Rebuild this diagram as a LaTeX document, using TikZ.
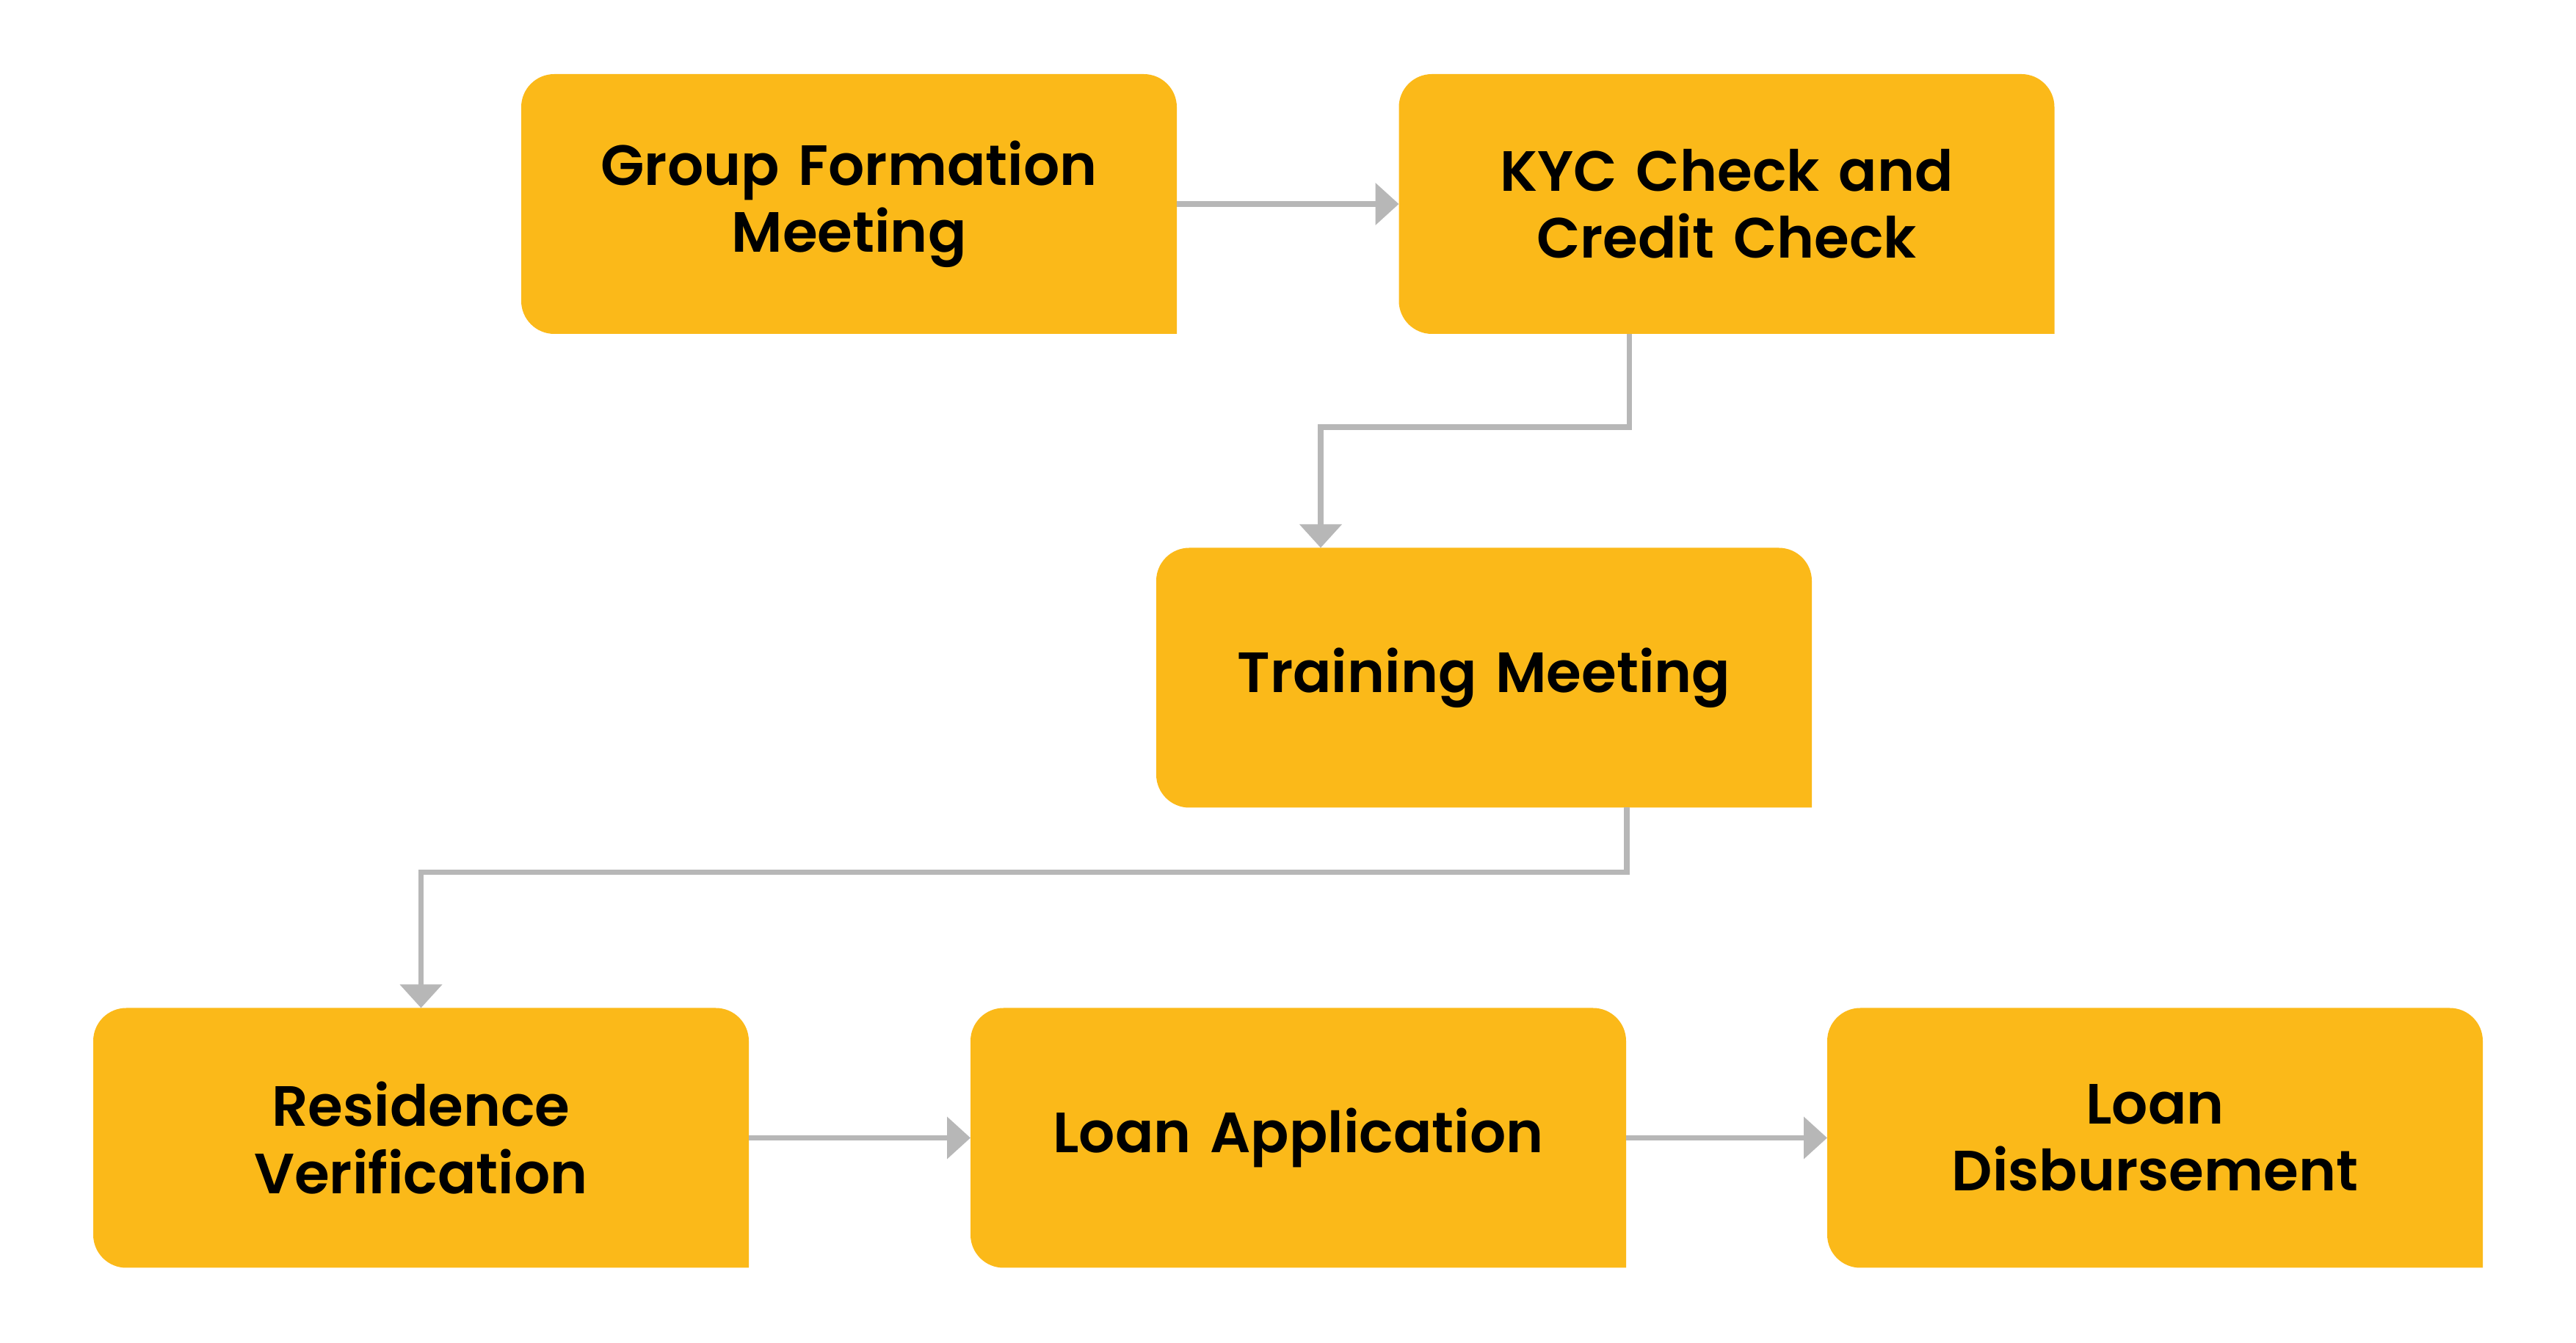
\documentclass[tikz,border=0pt]{standalone}
\usepackage{fontspec}
\setmainfont{Poppins SemiBold}
\usepackage{xcolor}
\usepackage{tikz}
\usetikzlibrary{arrows.meta,positioning,backgrounds}
\definecolor{boxfill}{HTML}{FBB919}
\definecolor{flowgray}{HTML}{B7B7B7}
\tikzset{
  stage/.style={outer sep=0pt, minimum width=8.93cm, minimum height=3.54cm,
    text width=8cm, align=center, font=\fontsize{22}{26}\selectfont},
  flow/.style={draw=flowgray, line width=2.2pt, -{Triangle[length=3.2mm,width=5.6mm]}}
}

\begin{document}
\begin{tikzpicture}
  \useasboundingbox (0,0) rectangle (35.09,18.30);
  % Nodes
  \node[stage] (gfm) at (11.565,15.52) {Group Formation\\Meeting};
  \node[stage] (kyc) at (23.52,15.52) {KYC Check and\\Credit Check};
  \node[stage] (tm) at (20.215,9.065) {Training Meeting};
  \node[stage] (rv) at (5.735,2.795) {Residence\\Verification};
  \node[stage] (la) at (17.685,2.795) {Loan Application};
  \node[stage] (ld) at (29.355,2.795) {Loan\\Disbursement};

  % box fills, lower right corner square
  \begin{scope}[on background layer]
    \foreach \n in {gfm,kyc,tm,rv,la,ld}
      \fill[boxfill] [rounded corners=0.45cm] (\n.south west) rectangle (\n.north east)
        [sharp corners] ([xshift=-0.5cm]\n.south east) rectangle ([yshift=0.5cm]\n.south east);
  \end{scope}

  % Flow
  \draw[flow] (gfm) -- (kyc);
  \draw[flow] ([xshift=3.14cm]kyc.south west) -- ++(0,-1.27) -| ([xshift=2.24cm]tm.north west);
  \draw[flow] ([xshift=6.41cm]tm.south west) -- ++(0,-0.88) -| (rv.north);
  \draw[flow] (rv) -- (la);
  \draw[flow] (la) -- (ld);
\end{tikzpicture}
\end{document}
